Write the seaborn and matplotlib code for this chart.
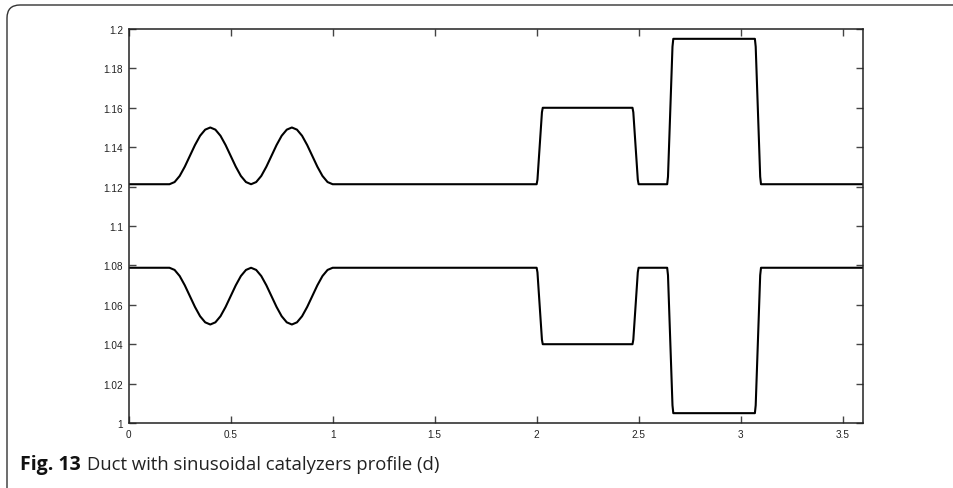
import matplotlib
matplotlib.use("Agg")
import matplotlib.pyplot as plt
import seaborn as sns
import pandas as pd
from matplotlib.patches import FancyBboxPatch

# ---- data ----
x_pts = [0.0, 0.2,
         0.225, 0.25, 0.275, 0.3, 0.325, 0.35, 0.375, 0.4,
         0.425, 0.45, 0.475, 0.5, 0.525, 0.55, 0.575, 0.6,
         0.625, 0.65, 0.675, 0.7, 0.725, 0.75, 0.775, 0.8,
         0.825, 0.85, 0.875, 0.9, 0.925, 0.95, 0.975, 1.0,
         2.0, 2.004, 2.026, 2.03, 2.47, 2.474, 2.496, 2.5,
         2.64, 2.644, 2.666, 2.67, 3.07, 3.074, 3.096, 3.1, 3.6]

upper_wall = [1.1212, 1.1212,
              1.1223, 1.1254, 1.1301, 1.1356, 1.1411, 1.1458, 1.1489, 1.1500,
              1.1489, 1.1458, 1.1411, 1.1356, 1.1301, 1.1254, 1.1223, 1.1212,
              1.1223, 1.1254, 1.1301, 1.1356, 1.1411, 1.1458, 1.1489, 1.1500,
              1.1489, 1.1458, 1.1411, 1.1356, 1.1301, 1.1254, 1.1223, 1.1212,
              1.1212, 1.1235, 1.1577, 1.1600, 1.1600, 1.1577, 1.1235, 1.1212,
              1.1212, 1.1250, 1.1910, 1.1950, 1.1950, 1.1910, 1.1250, 1.1212, 1.1212]

lower_wall = [1.0788, 1.0788,
              1.0777, 1.0746, 1.0699, 1.0644, 1.0589, 1.0542, 1.0511, 1.0500,
              1.0511, 1.0542, 1.0589, 1.0644, 1.0699, 1.0746, 1.0777, 1.0788,
              1.0777, 1.0746, 1.0699, 1.0644, 1.0589, 1.0542, 1.0511, 1.0500,
              1.0511, 1.0542, 1.0589, 1.0644, 1.0699, 1.0746, 1.0777, 1.0788,
              1.0788, 1.0765, 1.0423, 1.0400, 1.0400, 1.0423, 1.0765, 1.0788,
              1.0788, 1.0750, 1.0090, 1.0050, 1.0050, 1.0090, 1.0750, 1.0788, 1.0788]

x_ticks = [0, 0.5, 1, 1.5, 2, 2.5, 3, 3.5]
x_ticklabels = ["0", "0.5", "1", "1.5", "2", "2.5", "3", "3.5"]
y_ticks = [1.0, 1.02, 1.04, 1.06, 1.08, 1.1, 1.12, 1.14, 1.16, 1.18, 1.2]
y_ticklabels = ["1", "1.02", "1.04", "1.06", "1.08", "1.1", "1.12", "1.14", "1.16", "1.18", "1.2"]

caption_bold = "Fig. 13"
caption_text = "Duct with sinusoidal catalyzers profile (d)"

df = pd.concat([
    pd.DataFrame({"x": x_pts, "y": upper_wall, "wall": "upper"}),
    pd.DataFrame({"x": x_pts, "y": lower_wall, "wall": "lower"}),
])

sns.set_theme(style="ticks")
plt.rcParams["font.family"] = ["Liberation Sans", "DejaVu Sans"]

fig = plt.figure(figsize=(9.54, 4.89), dpi=100)
ax = fig.add_axes([0.1349, 0.1329, 0.7697, 0.8058])

sns.lineplot(data=df, x="x", y="y", units="wall", estimator=None, sort=False,
             color="black", linewidth=1.5, ax=ax)

ax.set_xlim(0, 3.6)
ax.set_ylim(1.0, 1.2)
ax.set_xticks(x_ticks)
ax.set_xticklabels(x_ticklabels)
ax.set_yticks(y_ticks)
ax.set_yticklabels(y_ticklabels)
ax.set_xlabel("")
ax.set_ylabel("")
ax.tick_params(direction="in", length=5, width=1, colors="#444444",
               labelcolor="#222222", labelsize=7.2, top=True, right=True, pad=4)
for sp in ax.spines.values():
    sp.set_visible(True)
    sp.set_color("#222222")
    sp.set_linewidth(1.1)

# figure frame with rounded top-left corner
frame = FancyBboxPatch((0.07, -1.0), 12.0, 4.83 + 1.0,
                       boxstyle="round,pad=0,rounding_size=0.13",
                       transform=fig.dpi_scale_trans, fill=False,
                       edgecolor="#333333", linewidth=1.0)
fig.patches.append(frame)

fig.text(20 / 954, 1 - 465 / 489, caption_bold, fontsize=14, fontweight="bold",
         family=["Open Sans", "DejaVu Sans"], va="center", ha="left", color="#111111")
fig.text(87 / 954, 1 - 465 / 489, caption_text, fontsize=13.3,
         family=["Open Sans", "DejaVu Sans"], va="center", ha="left", color="#222222")

fig.savefig("out.png", dpi=100)
